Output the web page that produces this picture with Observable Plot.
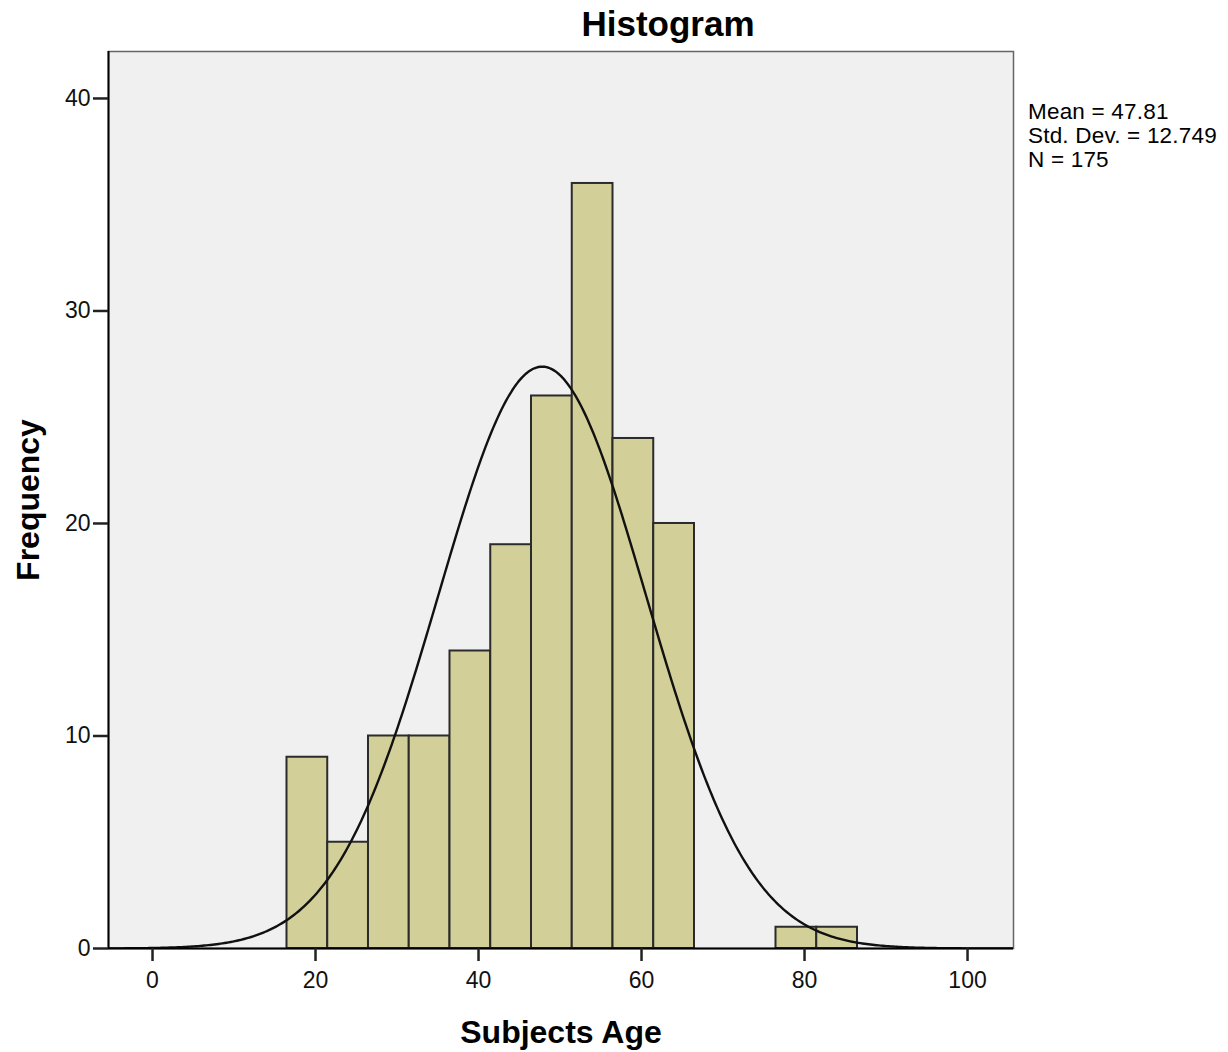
<!DOCTYPE html>
<html>
<head>
<meta charset="utf-8">
<script src="https://cdn.jsdelivr.net/npm/d3@7"></script>
<script src="https://cdn.jsdelivr.net/npm/@observablehq/plot@0.6"></script>
<style>
  body { margin: 0; background: #fff; font-family: "Liberation Sans", Arial, sans-serif; }
  #wrap { position: relative; width: 1228px; height: 1052px; }
  #title { position: absolute; left: 0; top: 4px; width: 1336px; text-align: center; font-weight: bold; font-size: 35px; color: #000; }
  #stats { position: absolute; left: 1028px; top: 100px; font-size: 22.5px; letter-spacing: 0.2px; line-height: 24px; color: #000; white-space: nowrap; }
  #chart { position: absolute; left: 0; top: 50px; }
</style>
</head>
<body>
<div id="wrap">
  <div id="title">Histogram</div>
  <div id="stats"></div>
  <div id="chart"></div>
</div>
<script>
// Histogram bins (age) and frequencies
const binStart = [16.5, 21.5, 26.5, 31.5, 36.5, 41.5, 46.5, 51.5, 56.5, 61.5, 76.5, 81.5];
const binEnd   = [21.5, 26.5, 31.5, 36.5, 41.5, 46.5, 51.5, 56.5, 61.5, 66.5, 81.5, 86.5];
const counts   = [9, 5, 10, 10, 14, 19, 26, 36, 24, 20, 1, 1];

// Summary statistics shown in the legend
const statLabels = ["Mean = 47.81", "Std. Dev. = 12.749", "N = 175"];
const mean = 47.81, sd = 12.749, n = 175, binWidth = 5;

// Axis setup
const xDomain = [-5.4, 105.64];
const yDomain = [0, 42.21];
const xTicks = [0, 20, 40, 60, 80, 100];
const yTicks = [0, 10, 20, 30, 40];

const bars = counts.map((c, i) => ({x1: binStart[i], x2: binEnd[i], y: c}));

// Fitted normal curve (expected frequency per bin)
const curveX = d3.range(xDomain[0], xDomain[1] + 0.001, 0.25);
const curve = curveX.map(x => ({
  x,
  y: n * binWidth * Math.exp(-0.5 * ((x - mean) / sd) ** 2) / (sd * Math.sqrt(2 * Math.PI))
}));

document.getElementById("stats").innerHTML = statLabels.map(s => `<div>${s}</div>`).join("");

const chart = Plot.plot({
  width: 1228,
  height: 1002,
  marginLeft: 108,
  marginRight: 215,
  marginTop: 1,
  marginBottom: 104,
  style: {fontFamily: "'Liberation Sans', Arial, sans-serif", fontSize: "23px", color: "#000", background: "transparent"},
  x: {domain: xDomain, ticks: xTicks, label: null},
  y: {domain: yDomain, ticks: yTicks, label: null},
  marks: [
    Plot.frame({fill: "#f0f0f0", stroke: "#666", strokeWidth: 1.5}),
    Plot.rectY(bars, {x1: "x1", x2: "x2", y: "y", fill: "#d3cf98", stroke: "#2b2b2b", strokeWidth: 2, inset: 0}),
    Plot.line(curve, {x: "x", y: "y", stroke: "#111", strokeWidth: 2.4, clip: true}),
    Plot.ruleY([yDomain[0]], {stroke: "#000", strokeWidth: 2}),
    Plot.ruleX([xDomain[0]], {stroke: "#000", strokeWidth: 2}),
    Plot.axisX({ticks: xTicks, tickSize: 13, tickPadding: 10, tickFormat: d => String(d), label: null, stroke: "#222", strokeWidth: 2.5, strokeOpacity: 1, fontSize: 23, fill: "#111"}),
    Plot.axisY({ticks: yTicks, tickSize: 15, tickPadding: 3, tickFormat: d => String(d), label: null, stroke: "#222", strokeWidth: 2.5, strokeOpacity: 1, fontSize: 23, fill: "#111"}),
    Plot.text(["Subjects Age"], {frameAnchor: "bottom", dy: 84, text: d => d, fontSize: 32, fontWeight: "bold", lineAnchor: "middle"}),
    Plot.text(["Frequency"], {frameAnchor: "left", dx: -80, rotate: -90, textAnchor: "middle", text: d => d, fontSize: 32, fontWeight: "bold", lineAnchor: "middle"})
  ]
});
document.getElementById("chart").appendChild(chart);
</script>
</body>
</html>
